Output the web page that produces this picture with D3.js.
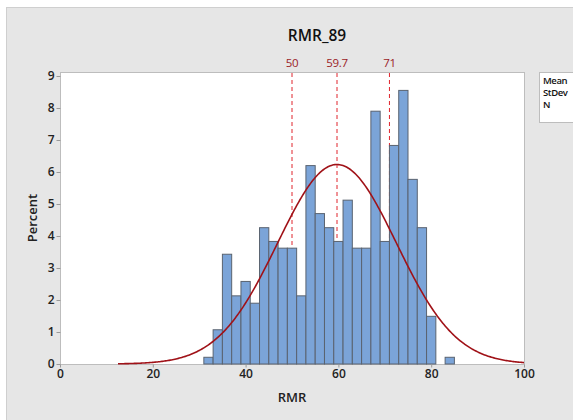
<!DOCTYPE html>
<html><head><meta charset="utf-8">
<script src="https://cdn.jsdelivr.net/npm/d3@7"></script>
<style>
html,body{margin:0;padding:0;background:#fff;}
svg{display:block;font-family:"Open Sans","Noto Sans",sans-serif;}
</style></head>
<body>
<script>
// Data
const binCenters = [32,34,36,38,40,42,44,46,48,50,52,54,56,58,60,62,64,66,68,70,72,74,76,78,80,84];
const percents   = [0.21,1.07,3.43,2.13,2.58,1.90,4.26,3.83,3.62,3.62,2.13,6.20,4.70,4.26,3.83,5.12,3.62,3.62,7.90,3.83,6.83,8.55,5.77,4.26,1.49,0.21];
const binWidth = 2;
const refLines = [50, 59.7, 71];
const refLabels = ["50", "59.7", "71"];
const fitMean = 59.7, fitSd = 12.8;
const xTicks = [0,20,40,60,80,100];
const yTicks = [0,1,2,3,4,5,6,7,8,9];
const legendLabels = ["Mean", "StDev", "N"];

const W = 573, H = 420;
const svg = d3.select("body").append("svg").attr("width", W).attr("height", H);

// panel background
svg.append("rect").attr("x",0).attr("y",0).attr("width",W).attr("height",H).attr("fill","#fff");
svg.append("rect").attr("x",6.5).attr("y",7.5).attr("width",W).attr("height",H)
  .attr("fill","#e6e6e6").attr("stroke","#cfcfcf");

const plot = {l:60, r:524, t:72, b:364};
const x = d3.scaleLinear().domain([0,100]).range([plot.l, plot.r]);
const y = d3.scaleLinear().domain([0,9]).range([364, 76]);

// plot area
svg.append("rect").attr("x",plot.l+0.5).attr("y",plot.t+0.5)
  .attr("width",plot.r-plot.l).attr("height",plot.b-plot.t)
  .attr("fill","#fff").attr("stroke","#bdbdbd");

// reference lines
svg.selectAll("line.ref").data(refLines).enter().append("line")
  .attr("x1",d=>x(d)).attr("x2",d=>x(d)).attr("y1",plot.t+1).attr("y2",plot.b)
  .attr("stroke","#e0242c").attr("stroke-width",1).attr("stroke-dasharray","4,3");
svg.selectAll("text.ref").data(refLines).enter().append("text")
  .attr("x",d=>x(d)).attr("y",67).attr("text-anchor","middle")
  .attr("font-size",11.5).attr("font-weight",500).attr("fill","#9b2226").attr("letter-spacing","-0.3")
  .text((d,i)=>refLabels[i]);

// bars
const bins = binCenters.map((c,i)=>({c, p:percents[i]}));
svg.selectAll("rect.bar").data(bins).enter().append("rect")
  .attr("x",d=>x(d.c-binWidth/2)).attr("width",d=>x(d.c+binWidth/2)-x(d.c-binWidth/2))
  .attr("y",d=>y(d.p)).attr("height",d=>y(0)-y(d.p))
  .attr("fill","#7ba4d8").attr("stroke","#5a6370").attr("stroke-width",1);

// fitted normal curve
const pts = d3.range(12.5, 100.001, 0.25).map(v=>[v,
  100*binWidth/(fitSd*Math.sqrt(2*Math.PI))*Math.exp(-0.5*((v-fitMean)/fitSd)**2)]);
svg.append("path").datum(pts)
  .attr("d", d3.line().x(d=>x(d[0])).y(d=>y(d[1])).curve(d3.curveLinear))
  .attr("fill","none").attr("stroke","#a01218").attr("stroke-width",1.6);

// axes
const xAxis = svg.append("g").attr("transform",`translate(0,${plot.b+0.5})`)
  .call(d3.axisBottom(x).tickValues(xTicks).tickSize(3).tickPadding(2));
const yAxis = svg.append("g").attr("transform",`translate(${plot.l+0.5},0)`)
  .call(d3.axisLeft(y).tickValues(yTicks).tickSize(4).tickPadding(2));
[xAxis,yAxis].forEach(g=>{
  g.select(".domain").remove();
  g.selectAll("line").attr("stroke","#9a9a9a");
  g.selectAll("text").attr("font-size",12).attr("fill","#222")
    .attr("font-family","'Open Sans','Noto Sans',sans-serif").attr("font-weight",600);
});

// title & axis labels
svg.append("text").attr("x",317).attr("y",41).attr("text-anchor","middle")
  .attr("font-size",15.5).attr("font-weight",600).attr("fill","#111").text("RMR_89");
svg.append("text").attr("x",292).attr("y",402).attr("text-anchor","middle")
  .attr("font-size",13).attr("font-weight",600).attr("fill","#222").text("RMR");
svg.append("text").attr("transform","translate(37,218) rotate(-90)").attr("text-anchor","middle")
  .attr("font-size",13).attr("font-weight",600).attr("fill","#222").text("Percent");

// legend box
svg.append("rect").attr("x",539.5).attr("y",72.5).attr("width",60).attr("height",50)
  .attr("fill","#fff").attr("stroke","#bdbdbd");
svg.selectAll("text.leg").data(legendLabels).enter().append("text")
  .attr("x",543).attr("y",(d,i)=>83.5+i*12).attr("font-size",9.5).attr("font-weight",600)
  .attr("letter-spacing","-0.4").attr("fill","#111").text(d=>d);
</script>
</body></html>
